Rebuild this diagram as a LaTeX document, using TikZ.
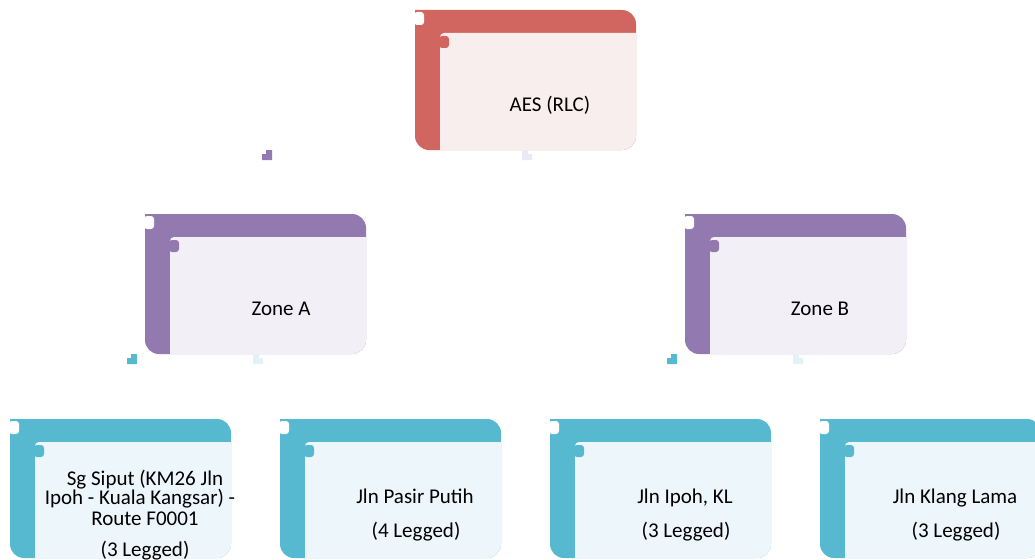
\documentclass[tikz,border=0pt]{standalone}
\usepackage{fontspec}
\setmainfont{Carlito}

\definecolor{redFrame}{HTML}{D0665F}
\definecolor{redFace}{HTML}{F9EEEE}
\definecolor{purFrame}{HTML}{9279B0}
\definecolor{purFace}{HTML}{F2F0F6}
\definecolor{cyaFrame}{HTML}{56B9D0}
\definecolor{cyaFace}{HTML}{EDF6FA}
\definecolor{lavTick}{HTML}{ECE9F2}
\definecolor{cyaTick}{HTML}{E4F2F7}

% card: #1 left, #2 top, #3 bottom, #4 frame colour, #5 face colour
\newcommand\orgcard[5]{%
  \fill[#4] (#1,#2) -- ({#1+207},#2) arc(-90:0:14) -- ({#1+221},{#3-14})
    arc(0:90:14) -- ({#1+14},#3) arc(90:180:14) -- cycle;
  \fill[white, rounded corners=2.25pt] ({#1-1},{#2+2}) rectangle ({#1+9},{#2+15});
  \fill[#5] ({#1+25},{#2+27}) arc(180:270:4) -- ({#1+221},{#2+23})
    -- ({#1+221},{#3-14}) arc(0:90:14) -- ({#1+25},#3) -- cycle;
  \fill[#4, rounded corners=2.25pt] ({#1+24},{#2+26}) rectangle ({#1+34},{#2+38});
}
% small stepped tick, raised block on the right
\newcommand\tickR[3]{%
  \fill[#3] (#1,{#2+4}) -- ({#1+4},{#2+4}) -- ({#1+4},#2) -- ({#1+10},#2)
    -- ({#1+10},{#2+10}) -- (#1,{#2+10}) -- cycle;}
% small stepped tick, raised block on the left
\newcommand\tickL[3]{%
  \fill[#3] (#1,#2) -- ({#1+6},#2) -- ({#1+6},{#2+4}) -- ({#1+10},{#2+4})
    -- ({#1+10},{#2+10}) -- (#1,{#2+10}) -- cycle;}

\tikzset{lbl/.style={font=\fontsize{15.75}{19}\selectfont, inner sep=0pt, anchor=base, text=black}}

\begin{document}
\begin{tikzpicture}[x=0.75pt, y=-0.75pt]
\useasboundingbox (0,0) rectangle (1035,560);
\clip (0,0) rectangle (1035,560);

% root
\orgcard{415}{10}{150}{redFrame}{redFace}
% zones
\orgcard{145}{214}{354}{purFrame}{purFace}
\orgcard{685}{214}{354}{purFrame}{purFace}
% sites
\orgcard{10}{419}{558}{cyaFrame}{cyaFace}
\orgcard{280}{419}{558}{cyaFrame}{cyaFace}
\orgcard{550}{419}{558}{cyaFrame}{cyaFace}
\orgcard{820}{419}{558}{cyaFrame}{cyaFace}

% ticks under the cards
\tickR{262}{150}{purFrame}
\tickL{522}{150}{lavTick}
\tickR{127}{354}{cyaFrame}
\tickL{253}{354}{cyaTick}
\tickR{667}{354}{cyaFrame}
\tickL{793}{354}{cyaTick}

% labels
\node[lbl] (aes) at (550,111) {AES (RLC)};
\node[lbl] (zoneA) at (281,315) {Zone A};
\node[lbl] (zoneB) at (820,315) {Zone B};

\node[lbl] (sg1) at (145,485) {Sg Siput (KM26 Jln};
\node[lbl] (sg2) at (140,504) {Ipoh - Kuala Kangsar) -};
\node[lbl] (sg3) at (145,525) {Route F0001};
\node[lbl] (sg4) at (145,556) {(3 Legged)};

\node[lbl] (pasir1) at (415,503) {Jln Pasir Putih};
\node[lbl] (pasir2) at (416,537) {(4 Legged)};

\node[lbl] (ipoh1) at (685,503) {Jln Ipoh, KL};
\node[lbl] (ipoh2) at (686,537) {(3 Legged)};

\node[lbl] (klang1) at (955,503) {Jln Klang Lama};
\node[lbl] (klang2) at (956,537) {(3 Legged)};
\end{tikzpicture}
\end{document}
